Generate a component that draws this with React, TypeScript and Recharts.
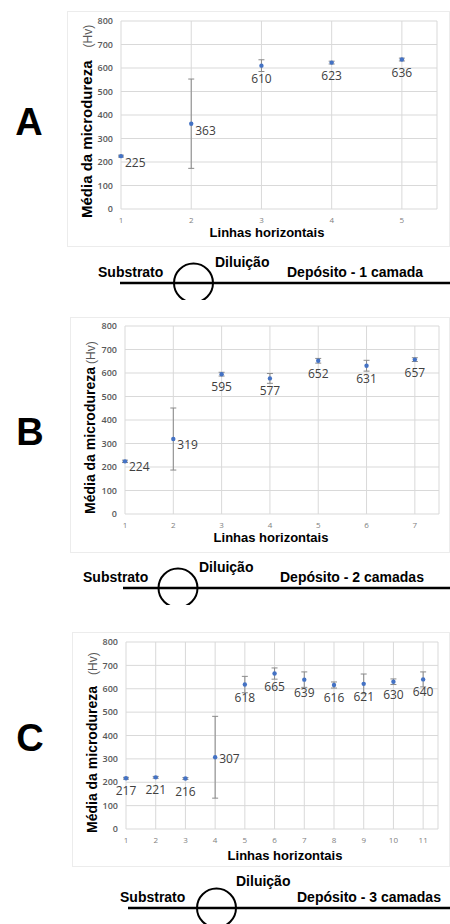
import React from 'react';
import { ScatterChart, Scatter, XAxis, YAxis, CartesianGrid, ErrorBar, LabelList } from 'recharts';

// Linhas horizontais (eixo x) e média da microdureza (Hv) com desvio
const linhasA = [1, 2, 3, 4, 5];
const mediaA = [225, 363, 610, 623, 636];
const desvioA = [4, 190, 25, 6, 6];

const linhasB = [1, 2, 3, 4, 5, 6, 7];
const mediaB = [224, 319, 595, 577, 652, 631, 657];
const desvioB = [5, 132, 8, 21, 10, 23, 8];

const linhasC = [1, 2, 3, 4, 5, 6, 7, 8, 9, 10, 11];
const mediaC = [217, 221, 216, 307, 618, 665, 639, 616, 621, 630, 640];
const desvioC = [4, 4, 4, 175, 35, 24, 33, 13, 42, 12, 32];

const yTicks = [0, 100, 200, 300, 400, 500, 600, 700, 800];

const SANS = '"Liberation Sans", Arial, sans-serif';
const LABEL_FONT = '"Open Sans", sans-serif';

interface PanelProps {
  linhas: number[];
  media: number[];
  desvio: number[];
  left: number;
  top: number;
  width: number;
  height: number;
  marginTop: number;
  marginRight: number;
  axisWidth: number;
  axisHeight: number;
  rightLabels: number[];
  rightDy: number;
  titleDx: number;
  titleDy: number;
  yTitleShift: number;
  yTitleSize: number;
  hvGap: number;
}

function Panel(p: PanelProps) {
  const data = p.linhas.map((x, i) => ({ x, y: p.media[i], err: p.desvio[i] }));
  const plotBottom = p.height - p.axisHeight;
  const plotCenter = (p.axisWidth + p.width - p.marginRight) / 2;

  const renderLabel = (props: any) => {
    const cx = Number(props.x) + Number(props.width || 0) / 2;
    const cy = Number(props.y) + Number(props.height || 0) / 2;
    const right = p.rightLabels.includes(props.index);
    return (
      <text
        x={right ? cx + 4 : cx}
        y={right ? cy + p.rightDy : cy + 17}
        textAnchor={right ? 'start' : 'middle'}
        fontFamily={LABEL_FONT}
        fontSize={12}
        fill="#404040"
      >
        {props.value}
      </text>
    );
  };

  const yTitle = () => {
    const x = 25;
    const y = plotBottom + p.yTitleShift;
    return (
      <text x={x} y={y} transform={`rotate(-90 ${x} ${y})`} textAnchor="start" fontFamily={SANS}>
        <tspan fontSize={p.yTitleSize} fontWeight="bold" fill="#000">Média da microdureza</tspan>
        <tspan dx={p.hvGap} fontSize={12} fill="#595959">(Hv)</tspan>
      </text>
    );
  };

  const xTitle = () => (
    <text
      x={plotCenter + p.titleDx}
      y={plotBottom + p.titleDy}
      textAnchor="middle"
      fontFamily={SANS}
      fontSize={13}
      fontWeight="bold"
      fill="#000"
    >
      Linhas horizontais
    </text>
  );

  return (
    <div
      style={{
        position: 'absolute',
        left: p.left,
        top: p.top,
        width: p.width,
        height: p.height,
        border: '1px solid #ececec',
        boxSizing: 'border-box',
      }}
    >
      <div style={{ position: 'absolute', left: -1, top: -1 }}>
        <ScatterChart
          width={p.width}
          height={p.height}
          margin={{ top: p.marginTop, right: p.marginRight, left: 0, bottom: 0 }}
        >
          <CartesianGrid stroke="#d9d9d9" />
          <XAxis
            type="number"
            dataKey="x"
            domain={[1, p.linhas.length + 0.5]}
            ticks={p.linhas}
            axisLine={false}
            tickLine={false}
            height={p.axisHeight}
            tick={{ fontSize: 8, fill: '#808080', fontFamily: LABEL_FONT }}
            label={xTitle}
          />
          <YAxis
            type="number"
            dataKey="y"
            domain={[0, 800]}
            ticks={yTicks}
            axisLine={false}
            tickLine={false}
            width={p.axisWidth}
            tick={{ fontSize: 9, fill: '#595959', fontWeight: 600, fontFamily: LABEL_FONT }}
            label={yTitle}
          />
          <Scatter data={data} fill="#4472C4" isAnimationActive={false} shape={(s: any) => <circle cx={s.cx} cy={s.cy} r={2.2} fill="#4472C4" />}>
            <ErrorBar dataKey="err" direction="y" width={3} stroke="#8a8a8a" strokeWidth={1} />
            <LabelList dataKey="y" content={renderLabel} />
          </Scatter>
        </ScatterChart>
      </div>
    </div>
  );
}

function Diagrama({ y, x0, cx, subX, dilX, dilY, depX, texto, clipY }: any) {
  const id = `clip-${y}`;
  return (
    <g>
      <defs>
        <clipPath id={id}>
          <rect x={0} y={0} width={450} height={clipY} />
        </clipPath>
      </defs>
      <line x1={x0} y1={y} x2={450} y2={y} stroke="#000" strokeWidth={2.5} />
      <circle cx={cx} cy={y} r={19.5} fill="none" stroke="#000" strokeWidth={2} clipPath={`url(#${id})`} />
      <text x={subX} y={y - 6} fontFamily={SANS} fontSize={14} fontWeight="bold">Substrato</text>
      <text x={dilX} y={dilY} fontFamily={SANS} fontSize={14} fontWeight="bold">Diluição</text>
      <text x={depX} y={y - 6} fontFamily={SANS} fontSize={14} fontWeight="bold">{texto}</text>
    </g>
  );
}

export default function App() {
  return (
    <div style={{ position: 'absolute', left: 0, top: 0, width: 450, height: 924, background: '#fff', overflow: 'hidden' }}>
      <Panel
        linhas={linhasA} media={mediaA} desvio={desvioA}
        left={67} top={11} width={383} height={236}
        marginTop={10} marginRight={13} axisWidth={54} axisHeight={38}
        rightLabels={[0, 1]} rightDy={11} titleDx={-12} titleDy={28} yTitleShift={9}
        yTitleSize={15} hvGap={13}
      />
      <Panel
        linhas={linhasB} media={mediaB} desvio={desvioB}
        left={70} top={317} width={380} height={236}
        marginTop={9} marginRight={11} axisWidth={55} axisHeight={39}
        rightLabels={[0, 1]} rightDy={10} titleDx={-11} titleDy={28} yTitleShift={0}
        yTitleSize={14} hvGap={3}
      />
      <Panel
        linhas={linhasC} media={mediaC} desvio={desvioC}
        left={72} top={632} width={378} height={235}
        marginTop={10} marginRight={12} axisWidth={54} axisHeight={38}
        rightLabels={[3]} rightDy={6} titleDx={3} titleDy={31} yTitleShift={4}
        yTitleSize={14} hvGap={11}
      />
      <svg width={450} height={924} style={{ position: 'absolute', left: 0, top: 0, pointerEvents: 'none' }}>
        <text x={29} y={135} textAnchor="middle" fontFamily={SANS} fontSize={38} fontWeight="bold">A</text>
        <text x={30} y={445} textAnchor="middle" fontFamily={SANS} fontSize={38} fontWeight="bold">B</text>
        <text x={30} y={751} textAnchor="middle" fontFamily={SANS} fontSize={38} fontWeight="bold">C</text>
        <Diagrama y={283} x0={120} cx={193.5} subX={98} dilX={215} dilY={267} depX={287} texto="Depósito - 1 camada" clipY={300} />
        <Diagrama y={588} x0={123} cx={178} subX={83} dilX={199} dilY={572} depX={280} texto="Depósito - 2 camadas" clipY={605} />
        <Diagrama y={908} x0={128} cx={216.5} subX={120} dilX={236} dilY={886} depX={297} texto="Depósito - 3 camadas" clipY={924} />
      </svg>
    </div>
  );
}
